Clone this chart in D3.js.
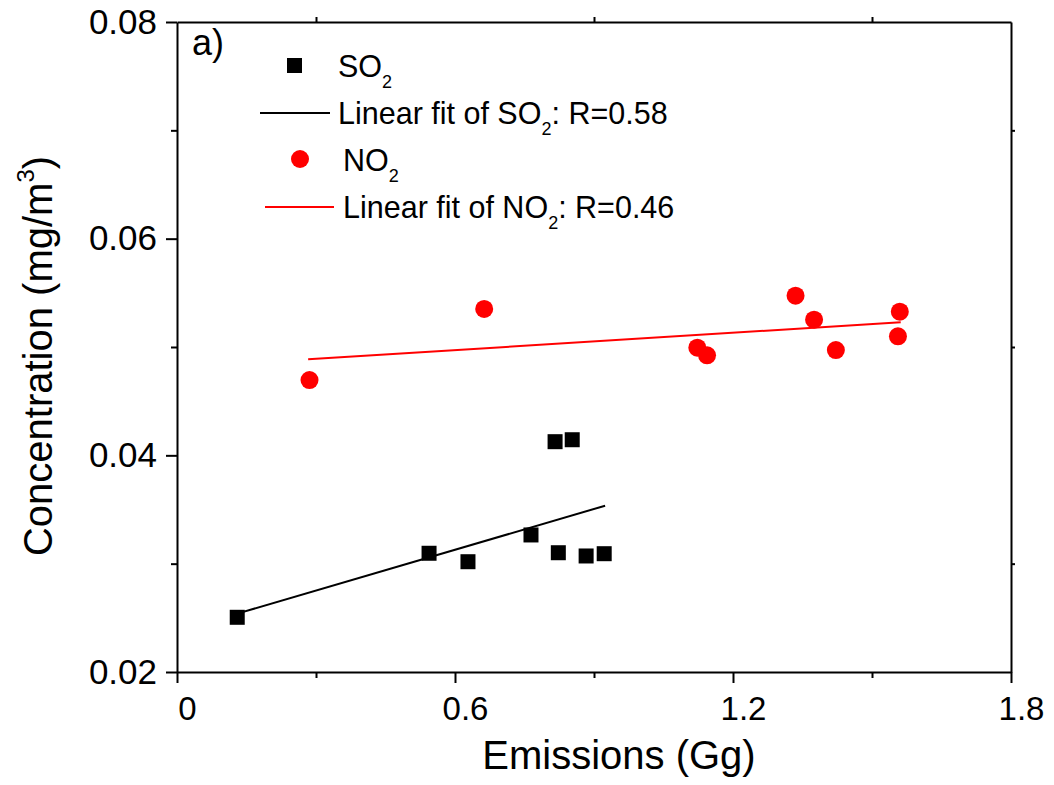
<!DOCTYPE html>
<html><head><meta charset="utf-8">
<script src="https://cdn.jsdelivr.net/npm/d3@7"></script>
<style>
body{margin:0;background:#fff;}
svg{display:block;font-family:Arial,"Liberation Sans",sans-serif;}
</style></head>
<body><svg id="c" width="1054" height="785"></svg>
<script>
// ---- data ----
const so2X = [0.130, 0.544, 0.628, 0.764, 0.816, 0.853, 0.823, 0.883, 0.922];
const so2Y = [0.02505, 0.03096, 0.03018, 0.03265, 0.04126, 0.04144, 0.03101, 0.03071, 0.03092];
const no2X = [0.286, 0.663, 1.123, 1.144, 1.335, 1.375, 1.422, 1.560, 1.556];
const no2Y = [0.04695, 0.05351, 0.04994, 0.04923, 0.05474, 0.05252, 0.04972, 0.05326, 0.05099];
const so2FitX = [0.130, 0.924];
const so2FitY = [0.02539, 0.03535];
const no2FitX = [0.283, 1.562];
const no2FitY = [0.04887, 0.05228];
const xMajor = [0, 0.6, 1.2, 1.8];
const xMinor = [0.3, 0.9, 1.5];
const yMajor = [0.02, 0.04, 0.06, 0.08];
const yMinor = [0.03, 0.05, 0.07];
const xLabels = ["0", "0.6", "1.2", "1.8"];
const yLabels = ["0.02", "0.04", "0.06", "0.08"];

const L = 177, R = 1011, T = 22, B = 672;
const svg = d3.select("#c");
const x = d3.scaleLinear().domain([0, 1.8]).range([L, R]);
const y = d3.scaleLinear().domain([0.02, 0.08]).range([B, T]);

function styleAxis(g){
  g.select(".domain").attr("stroke","#000").attr("stroke-width",2);
  g.selectAll(".tick line").attr("stroke","#000").attr("stroke-width",2);
}
// bottom
const bx = svg.append("g").attr("transform",`translate(0,${B})`)
  .call(d3.axisBottom(x).tickValues(xMajor).tickSize(11).tickSizeOuter(0).tickPadding(14)
    .tickFormat((d,i)=>xLabels[i]));
styleAxis(bx);
bx.selectAll(".tick text").attr("font-size",33).attr("fill","#000").attr("dx",10).attr("font-family","Arial, 'Liberation Sans'");
svg.append("g").attr("transform",`translate(0,${B})`)
  .call(d3.axisBottom(x).tickValues(xMinor).tickSize(6).tickSizeOuter(0).tickFormat(""))
  .call(g=>{g.select(".domain").remove(); g.selectAll(".tick line").attr("stroke","#000").attr("stroke-width",2);});
// top
const tx = svg.append("g").attr("transform",`translate(0,${T})`)
  .call(d3.axisTop(x).tickValues(xMinor).tickSize(5).tickSizeOuter(0).tickFormat(""));
styleAxis(tx);
// left
const ly = svg.append("g").attr("transform",`translate(${L},0)`)
  .call(d3.axisLeft(y).tickValues(yMajor).tickSize(11).tickSizeOuter(0).tickPadding(9)
    .tickFormat((d,i)=>yLabels[i]));
styleAxis(ly);
ly.selectAll(".tick text").attr("font-size",35).attr("fill","#000").attr("font-family","Arial, 'Liberation Sans'");
svg.append("g").attr("transform",`translate(${L},0)`)
  .call(d3.axisLeft(y).tickValues(yMinor).tickSize(6).tickSizeOuter(0).tickFormat(""))
  .call(g=>{g.select(".domain").remove(); g.selectAll(".tick line").attr("stroke","#000").attr("stroke-width",2);});
// right
const ry = svg.append("g").attr("transform",`translate(${R},0)`)
  .call(d3.axisRight(y).tickValues(yMinor).tickSize(4).tickSizeOuter(0).tickFormat(""));
styleAxis(ry);

// axis titles
svg.append("text").attr("x",619).attr("y",769).attr("text-anchor","middle")
  .attr("font-size",40).attr("fill","#000").text("Emissions (Gg)");
const yt = svg.append("text").attr("transform",`translate(52,356) rotate(-90)`)
  .attr("text-anchor","middle").attr("font-size",40).attr("fill","#000");
yt.append("tspan").text("Concentration (mg/m");
yt.append("tspan").attr("font-size",24).attr("dy",-18).text("3");
yt.append("tspan").attr("dy",18).text(")");

// fit lines
const line = d3.line().x(d=>x(d[0])).y(d=>y(d[1]));
svg.append("path").datum(so2FitX.map((v,i)=>[v,so2FitY[i]])).attr("d",line)
  .attr("stroke","#000").attr("stroke-width",2).attr("fill","none");
svg.append("path").datum(no2FitX.map((v,i)=>[v,no2FitY[i]])).attr("d",line)
  .attr("stroke","#ff0000").attr("stroke-width",2).attr("fill","none");

// points
const S = 15;
svg.append("g").selectAll("rect").data(so2X.map((v,i)=>[v,so2Y[i]])).join("rect")
  .attr("x",d=>x(d[0])-S/2).attr("y",d=>y(d[1])-S/2).attr("width",S).attr("height",S).attr("fill","#000");
svg.append("g").selectAll("circle").data(no2X.map((v,i)=>[v,no2Y[i]])).join("circle")
  .attr("cx",d=>x(d[0])).attr("cy",d=>y(d[1])).attr("r",9).attr("fill","#ff0000");

// panel label & legend
svg.append("text").attr("x",192).attr("y",55).attr("font-size",36).attr("fill","#000").text("a)");
const lg = svg.append("g");
lg.append("rect").attr("x",287).attr("y",58).attr("width",15).attr("height",15).attr("fill","#000");
lg.append("line").attr("x1",260).attr("x2",330).attr("y1",113).attr("y2",113).attr("stroke","#000").attr("stroke-width",2);
lg.append("circle").attr("cx",300).attr("cy",159).attr("r",9).attr("fill","#ff0000");
lg.append("line").attr("x1",265).attr("x2",334).attr("y1",207).attr("y2",207).attr("stroke","#ff0000").attr("stroke-width",2);
function sub(xx, yy, a, b){
  const e = lg.append("text").attr("x",xx).attr("y",yy).attr("font-size",30.5).attr("fill","#000");
  e.append("tspan").text(a);
  e.append("tspan").attr("font-size",18).attr("dy",11).text("2");
  if (b) e.append("tspan").attr("dy",-11).text(b);
}
sub(338,77,"SO",null);
sub(338,124,"Linear fit of SO",": R=0.58");
sub(343,171,"NO",null);
sub(343,218,"Linear fit of NO",": R=0.46");
</script></body></html>
